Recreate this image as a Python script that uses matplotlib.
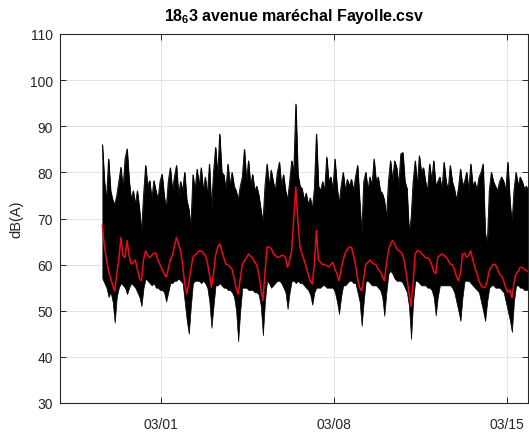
import matplotlib
matplotlib.use('Agg')
import matplotlib.pyplot as plt
import matplotlib.dates as mdates
from datetime import datetime, timedelta

# ---- data ----
start_time = datetime(2019, 2, 26, 15, 0)
step_hours = 2

upper_db = [
    86, 78, 74, 82.9, 76, 74, 73, 75, 78, 81.1,
    76, 82.9, 85.1, 78.2, 74, 76, 73, 76, 72, 67,
    75, 81.5, 77, 78.2, 74, 78.2, 76, 74, 78, 79.6,
    75, 72, 78, 81, 76, 79, 81.5, 75, 78, 76,
    80, 74, 72, 68, 79.5, 76, 80.7, 77, 81, 76,
    79, 75, 81.8, 72, 80, 85.4, 79, 88.3, 80, 79.5,
    76, 81.8, 77, 80, 77, 76, 74, 77, 79, 85,
    78, 82.5, 77, 79.5, 76, 77, 75, 72, 69, 77,
    81.8, 77, 80.5, 78, 76, 80, 82.2, 77, 79.5, 76,
    74, 78, 82.5, 80, 94.8, 79.5, 77, 76.5, 74, 75.5,
    73, 74.5, 72, 76.5, 88.3, 77, 76, 78, 76, 83.3,
    78, 79, 76, 82.9, 77, 73, 77, 80, 76, 78.5,
    77, 78.5, 76, 79, 81.5, 74, 66.6, 78, 80, 76,
    79, 77, 82.9, 78, 79, 76, 75.5, 74, 70, 78,
    82.5, 78, 82.5, 81, 77, 84, 84.3, 78, 76.5, 67,
    70, 78, 82.5, 77, 83.6, 80, 81, 78, 76, 81.8,
    78, 82.5, 77, 78, 79, 76, 82.2, 78, 76, 81.5,
    78, 76.5, 74, 76.5, 80.7, 77, 78, 80, 76, 81.8,
    77, 78, 76, 79, 80, 81.8, 67, 64, 76, 80,
    78, 77, 76, 78, 79, 78, 76, 82.2, 74, 68.6,
    76, 80, 77, 79, 78, 76.5, 77, 76,
]

lower_db = [
    57, 56, 55, 53, 54, 52, 47.4, 53, 55, 56,
    55.5, 55, 53.6, 55, 56, 55.5, 55, 54, 53, 51,
    55, 57, 56.5, 56, 55.5, 56, 55, 55, 54.5, 54.5,
    54, 52, 54, 56, 56, 56.5, 56.5, 57, 56.5, 56,
    52, 48, 45, 51, 56, 56.5, 56.5, 56.5, 56, 56.5,
    56, 55, 52, 46.3, 51, 55.5, 55.5, 56, 55.5, 55,
    55, 54.5, 54.5, 54, 53, 50, 43.4, 50, 55, 55,
    55, 54.5, 54.5, 54.5, 54, 54, 53.5, 51, 44.7, 52,
    56.5, 56, 55, 55.5, 56, 56.5, 56.5, 56, 55, 54,
    50.4, 54, 56.5, 56.5, 56, 56.5, 56, 56, 55.5, 55,
    54.5, 53.5, 51.3, 54, 55, 55, 55, 55.5, 55.5, 55,
    55, 55, 55, 54, 52, 49.3, 53, 55.5, 55.5, 56,
    56.5, 56.5, 56, 56, 54, 52, 46.7, 52, 56.5, 56.5,
    56, 55.5, 55.5, 55.5, 55, 54.5, 53, 48.9, 54, 58,
    58.7, 58, 57, 56.5, 56.5, 56.5, 56, 55, 54, 51,
    43.9, 52, 56.5, 56.5, 56, 55.5, 55.5, 55.5, 55, 55,
    54.5, 53, 49, 53, 55.5, 55.5, 55.5, 55.5, 55.5, 55.5,
    55, 54, 52, 50, 47.8, 53, 56.5, 56.5, 56.5, 56,
    55.5, 55, 54.5, 54, 52, 50, 47.8, 52, 55, 55.5,
    55.5, 55, 55, 55, 54.5, 54, 52, 50, 48, 45.4,
    52, 55.5, 55.5, 55, 55, 54.5, 54.5, 54.5,
]

smooth_db = [
    68.5, 64, 61, 58.7, 57, 55.5, 54.3, 58, 61, 65.9,
    62, 61.5, 65.2, 62, 60.1, 60.5, 61, 59, 57, 56.5,
    61, 63, 62, 61.5, 62, 62.5, 62.5, 61, 60, 59,
    58, 57.3, 59, 61, 62, 64, 65.9, 64.5, 63, 60,
    56, 53.6, 56, 59, 61.6, 62, 62.5, 63, 63, 62.5,
    62, 60.5, 58, 55.1, 58, 62, 63.8, 64.5, 63, 61.5,
    60.1, 60, 59.5, 59, 57, 55, 53.6, 57, 60, 60.8,
    61.5, 62.3, 61.8, 61.5, 60.5, 60, 58, 55, 52.2, 58,
    63.8, 63.8, 63.5, 62.5, 62, 61.6, 61.6, 62, 62, 61.5,
    59.4, 61, 63, 70, 76.8, 69.5, 64, 62.3, 61, 59.5,
    58, 56.5, 55.8, 60, 67.4, 61, 60.5, 60, 60, 59.8,
    59.5, 60, 60.5, 59, 58, 56.5, 59, 61, 62.5, 63.3,
    63.8, 63.8, 62, 60, 57, 55, 54.3, 57, 60.1, 60.5,
    61, 60.5, 60.1, 60, 59, 58.5, 57.5, 56.5, 60, 63,
    64.5, 65.2, 64.5, 63.5, 63, 62.8, 62, 60, 57, 54,
    51, 56, 62.3, 63, 63, 62.5, 62, 61.5, 61.5, 61,
    60, 58.5, 58, 61.6, 62, 62.3, 62, 61.6, 61, 60.1,
    60, 59, 57.5, 56.5, 58, 62.3, 62.5, 61.6, 62, 63,
    61, 59.4, 58, 56.5, 55.5, 55.1, 55, 56.5, 58.7, 59.5,
    60.1, 60, 59, 58, 57.5, 56.5, 55, 54, 54.5, 52.8,
    56, 58, 58.5, 59.4, 59.4, 59, 58.7, 58.5,
]

y_ticks = [30, 40, 50, 60, 70, 80, 90, 100, 110]
x_tick_dates = [datetime(2019, 3, 1), datetime(2019, 3, 8), datetime(2019, 3, 15)]
x_limits = [datetime(2019, 2, 24, 21, 50), datetime(2019, 3, 15, 20, 10)]
title_text = r"18$_{\mathbf{6}}$3 avenue maréchal Fayolle.csv"
y_label = "dB(A)"

# ---- styling ----
plt.rcParams['font.family'] = ['Liberation Sans', 'DejaVu Sans']
plt.rcParams['mathtext.fontset'] = 'custom'
plt.rcParams['mathtext.rm'] = 'Liberation Sans'
plt.rcParams['mathtext.bf'] = 'Liberation Sans:bold'
plt.rcParams['mathtext.it'] = 'Liberation Sans:italic'

n = min(len(upper_db), len(lower_db), len(smooth_db))
times = [start_time + timedelta(hours=step_hours * i) for i in range(n)]

fig = plt.figure(figsize=(5.29, 4.35), dpi=100)
ax = fig.add_axes([60 / 529, 1 - 404 / 435, (527.5 - 60) / 529, (404 - 35) / 435])

ax.fill_between(times, lower_db[:n], upper_db[:n], color='black', linewidth=0.5, edgecolor='black', zorder=2)
ax.plot(times, upper_db[:n], color='black', linewidth=0.6, zorder=2)
ax.plot(times, smooth_db[:n], color='#ec0a1a', linewidth=1.1, zorder=3)

ax.set_ylim(30, 110)
ax.set_yticks(y_ticks)
ax.set_xlim(x_limits)
ax.set_xticks(x_tick_dates)
ax.xaxis.set_major_formatter(mdates.DateFormatter('%m/%d'))

grey = '#262626'
ax.grid(True, color='#dedede', linewidth=0.6, zorder=0)
ax.set_axisbelow(True)
for s in ax.spines.values():
    s.set_color(grey)
    s.set_linewidth(0.8)
ax.tick_params(direction='in', top=True, right=True, length=4, width=0.7,
               colors=grey, labelsize=10, pad=5)
ax.tick_params(axis='x', pad=10)

ax.set_ylabel(y_label, fontsize=10.5, color=grey, labelpad=5)
ax.set_title(title_text, fontsize=11.5, fontweight='bold', color='black', pad=10)

fig.savefig('out.png', dpi=100)
